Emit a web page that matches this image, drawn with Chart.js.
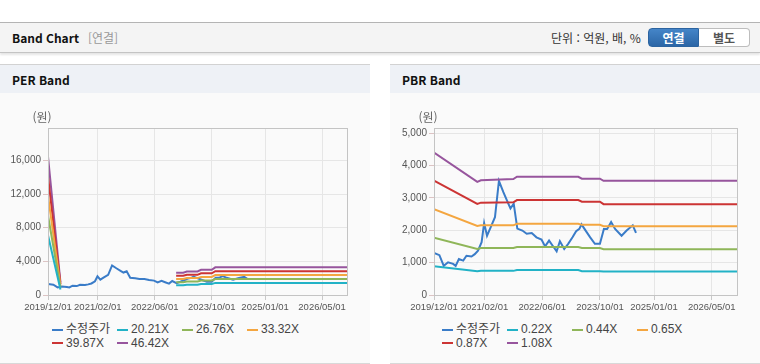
<!DOCTYPE html>
<html lang="ko">
<head>
<meta charset="UTF-8" />
<title>Band Chart</title>
<script src="https://cdn.jsdelivr.net/npm/chart.js@4"></script>
<style>
    body {
        margin: 0;
        width: 760px;
        height: 364px;
        position: relative;
        overflow: hidden;
        background: #fff;
        font-family: "Noto Sans CJK KR", "Noto Sans", sans-serif;
    }
    .topbar {
        position: absolute;
        left: 0;
        top: 22px;
        width: 760px;
        height: 29px;
        background: #f4f4f4;
        border-top: 1px solid #b4b4b4;
        border-bottom: 1px solid #c4c4c4;
        box-shadow: 0 2px 2px rgba(0, 0, 0, 0.1);
    }
    .topbar .title {
        position: absolute;
        left: 12px;
        top: 6px;
        font-size: 12px;
        font-weight: bold;
        color: #111;
        line-height: 18px;
    }
    .topbar .title span {
        font-weight: normal;
        font-size: 12px;
        color: #999;
        margin-left: 9px;
    }
    .unit {
        position: absolute;
        left: 551px;
        top: 6px;
        font-size: 12px;
        line-height: 17px;
        color: #333;
    }
    .btn {
        position: absolute;
        top: 5px;
        width: 51px;
        height: 19px;
        box-sizing: border-box;
        font-size: 12px;
        font-weight: bold;
        line-height: 17px;
        text-align: center;
    }
    .btn.on {
        left: 648px;
        background: linear-gradient(#4585c8, #2b66a6);
        border: 1px solid #2c64a0;
        border-radius: 4px 0 0 4px;
        color: #fff;
    }
    .btn.off {
        left: 699px;
        background: #fff;
        border: 1px solid #bdbdbd;
        border-left: none;
        border-radius: 0 4px 4px 0;
        color: #555;
    }
    .panel {
        position: absolute;
        top: 64px;
        width: 370px;
        height: 298px;
        background: #fafafa;
        border-top: 1px solid #d2d2d2;
        border-bottom: 1px solid #d8d8d8;
    }
    .panel .head {
        height: 28px;
        background: #eef1f6;
        font-size: 12px;
        font-weight: bold;
        color: #111;
        line-height: 29px;
        padding-left: 12px;
    }
    .panel canvas {
        position: absolute;
        left: 0;
        top: 35px;
    }
    .legend {
        position: absolute;
        left: 52px;
        top: 258px;
        display: grid;
        grid-template-columns: repeat(4, 65px);
        font-family: "Liberation Sans", "Noto Sans CJK KR", sans-serif;
        font-size: 12px;
        color: #444;
    }
    .legend div {
        height: 13.5px;
        line-height: 13.5px;
        white-space: nowrap;
    }
    .legend i {
        display: inline-block;
        width: 11px;
        height: 2px;
        margin-right: 3px;
        vertical-align: middle;
    }
</style>
</head>
<body>
    <div class="topbar">
        <div class="title">Band Chart<span>[연결]</span></div>
        <div class="unit">단위 : 억원, 배, %</div>
        <div class="btn on">연결</div>
        <div class="btn off">별도</div>
    </div>

    <div class="panel" style="left: 0">
        <div class="head">PER Band</div>
        <canvas id="perChart" width="370" height="222"></canvas>
        <div class="legend" id="perLegend"></div>
    </div>

    <div class="panel" style="left: 390px">
        <div class="head">PBR Band</div>
        <canvas id="pbrChart" width="370" height="222"></canvas>
        <div class="legend" id="pbrLegend"></div>
    </div>

<script>
// x axis: months counted from 2019/12
const xMax = 84;
const tickMonths = [0, 14, 30, 46, 61, 77];
const tickLabels = ["2019/12/01", "2021/02/01", "2022/06/01", "2023/10/01", "2025/01/01", "2026/05/01"];

// 수정주가
const priceMonths = [0, 1.5, 2.7, 3.9, 5.3, 6, 6.9, 8.1, 9, 10.4, 11.3, 12.2, 13.2, 13.9, 14.7, 15.7, 16.9, 18, 19.2, 20.6, 21.2, 22.1, 23.1, 24.5, 25.7, 27.1, 28.4, 29.8, 30.8, 31.9, 32.9, 34, 34.9, 36.1, 37.2, 38.4, 39.4, 40.3, 40.9, 41.9, 43.3, 44.6, 46, 47.1, 48, 49.1, 50.2, 52, 53.4, 55.1, 56];
const price = [1300, 1230, 900, 1010, 960, 900, 1110, 1060, 1210, 1190, 1260, 1370, 1630, 2220, 1830, 2090, 2400, 3520, 3180, 2820, 2670, 2820, 2050, 1990, 1890, 1910, 1780, 1710, 1500, 1680, 1520, 1350, 1660, 1420, 1580, 1780, 1970, 2040, 2180, 2010, 1780, 1580, 1580, 2040, 2040, 2250, 2040, 1830, 1990, 2150, 1920];

// PER bands (null = no data)
const perBandMonths = [0, 3.5, 20, 36, 38, 39, 42, 43, 46, 47, 84];
const per2021 = [7100, 650, null, 1150, 1150, 1220, 1220, 1310, 1310, 1440, 1440];
const per2676 = [9450, 860, null, 1530, 1530, 1610, 1610, 1730, 1730, 1900, 1900];
const per3332 = [11800, 1070, null, 1900, 1900, 2010, 2010, 2150, 2150, 2370, 2370];
const per3987 = [14100, 1280, null, 2280, 2280, 2400, 2400, 2580, 2580, 2830, 2830];
const per4642 = [16450, 1490, null, 2650, 2650, 2800, 2800, 3000, 3000, 3290, 3290];

// PBR bands
const pbrBandMonths = [0, 12, 13, 22, 23, 40, 41, 46, 47, 84];
const pbr022 = [890, 730, 745, 745, 770, 770, 735, 735, 725, 725];
const pbr044 = [1770, 1420, 1450, 1450, 1480, 1480, 1450, 1450, 1415, 1415];
const pbr065 = [2650, 2130, 2150, 2150, 2200, 2200, 2165, 2165, 2125, 2125];
const pbr087 = [3530, 2810, 2850, 2860, 2930, 2930, 2880, 2880, 2805, 2805];
const pbr108 = [4400, 3490, 3540, 3580, 3650, 3650, 3590, 3590, 3525, 3525];

const perTicks = [0, 4000, 8000, 12000, 16000];
const pbrTicks = [0, 1000, 2000, 3000, 4000, 5000];

const colors = ["#3a7cc8", "#22b2c6", "#8fb659", "#f4a640", "#cc3434", "#97559d"];

const plotFrame = {
    id: "plotFrame",
    afterDraw(chart) {
        const { ctx, chartArea: a } = chart;
        ctx.save();
        ctx.strokeStyle = "#c4c4c4";
        ctx.lineWidth = 1;
        ctx.strokeRect(Math.round(a.left) + 0.5, Math.round(a.top) + 0.5,
            Math.round(a.right - a.left), Math.round(a.bottom - a.top));
        ctx.fillStyle = "#666";
        ctx.font = "12px 'Noto Sans CJK KR'";
        ctx.textAlign = "center";
        ctx.textBaseline = "middle";
        ctx.fillText("(원)", a.left - 6, a.top - 11);
        ctx.restore();
    },
};

function bandChart(canvasId, legendId, series, yMax, yTicks, axisWidth) {
    const datasets = series.map((s, i) => ({
        label: s.label,
        data: s.months.map((m, j) => ({ x: m, y: s.values[j] })),
        borderColor: colors[i],
        backgroundColor: colors[i],
        borderWidth: 2,
        pointRadius: 0,
        tension: 0,
        spanGaps: false,
        order: i === 0 ? 10 : 0,
    }));

    new Chart(document.getElementById(canvasId), {
        type: "line",
        data: { datasets: datasets },
        options: {
            responsive: false,
            animation: false,
            layout: { padding: { top: 28, right: 23, left: 0, bottom: 0 } },
            plugins: { legend: { display: false }, tooltip: { enabled: false } },
            scales: {
                x: {
                    type: "linear",
                    min: 0,
                    max: xMax,
                    afterBuildTicks: (axis) => {
                        axis.ticks = tickMonths.map((v) => ({ value: v }));
                    },
                    afterFit: (axis) => {
                        axis.height = 222 - 28 - 167;
                    },
                    ticks: {
                        autoSkip: false,
                        maxRotation: 0,
                        padding: 2,
                        color: "#555",
                        font: { family: "'Liberation Sans', sans-serif", size: 9.5 },
                        callback: (v) => tickLabels[tickMonths.indexOf(v)],
                    },
                    grid: { color: "#e6e6e6", tickLength: 5, tickColor: "#c8c8c8" },
                    border: { color: "#bdbdbd" },
                },
                y: {
                    min: 0,
                    max: yMax,
                    afterBuildTicks: (axis) => {
                        axis.ticks = yTicks.map((v) => ({ value: v }));
                    },
                    afterFit: (axis) => {
                        axis.width = axisWidth;
                    },
                    ticks: {
                        padding: 2,
                        color: "#555",
                        font: { family: "'Liberation Sans', sans-serif", size: 10 },
                        callback: (v) => v.toLocaleString("en-US"),
                    },
                    grid: { color: "#e6e6e6", tickLength: 5, tickColor: "#dcc4c4" },
                    border: { color: "#bdbdbd" },
                },
            },
        },
        plugins: [plotFrame],
    });

    document.getElementById(legendId).innerHTML = series
        .map((s, i) => `<div><i style="background:${colors[i]}"></i>${s.label}</div>`)
        .join("");
}

bandChart("perChart", "perLegend", [
    { label: "수정주가", months: priceMonths, values: price },
    { label: "20.21X", months: perBandMonths, values: per2021 },
    { label: "26.76X", months: perBandMonths, values: per2676 },
    { label: "33.32X", months: perBandMonths, values: per3332 },
    { label: "39.87X", months: perBandMonths, values: per3987 },
    { label: "46.42X", months: perBandMonths, values: per4642 },
], 19850, perTicks, 48);

bandChart("pbrChart", "pbrLegend", [
    { label: "수정주가", months: priceMonths, values: price },
    { label: "0.22X", months: pbrBandMonths, values: pbr022 },
    { label: "0.44X", months: pbrBandMonths, values: pbr044 },
    { label: "0.65X", months: pbrBandMonths, values: pbr065 },
    { label: "0.87X", months: pbrBandMonths, values: pbr087 },
    { label: "1.08X", months: pbrBandMonths, values: pbr108 },
], 5155, pbrTicks, 44);
</script>
</body>
</html>
